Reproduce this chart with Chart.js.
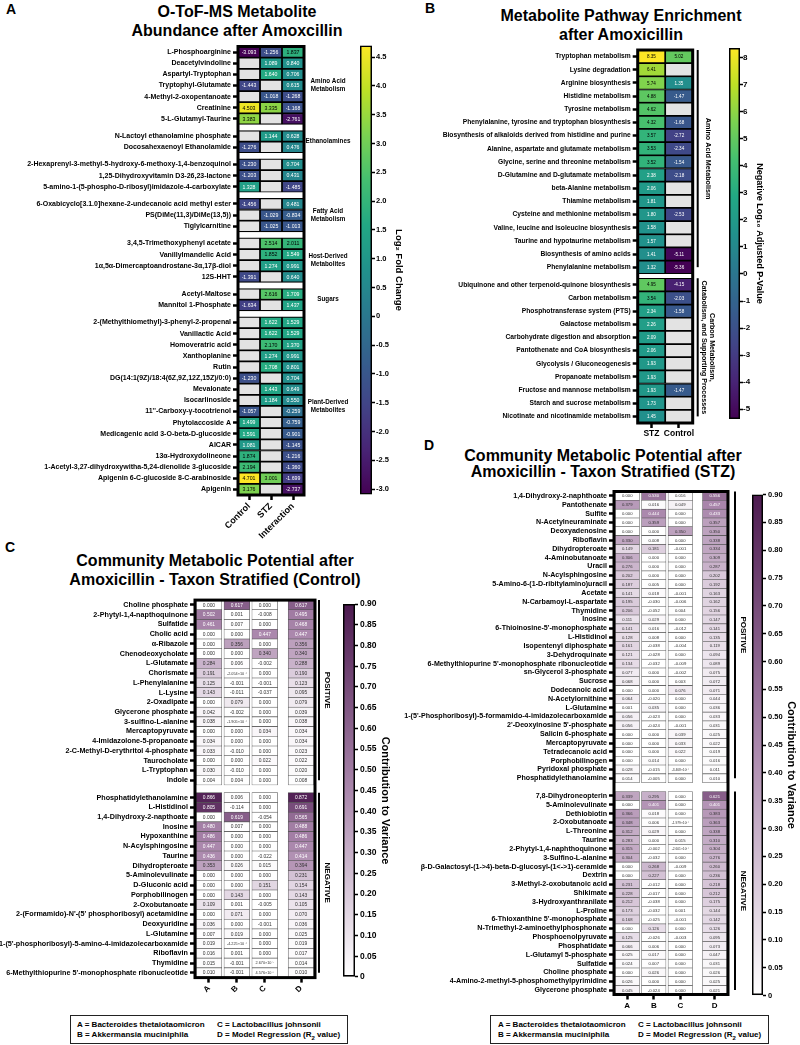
<!DOCTYPE html>
<html><head><meta charset="utf-8">
<script src="https://cdn.jsdelivr.net/npm/chart.js@4.4.1/dist/chart.umd.min.js"></script>
<style>
html,body{margin:0;padding:0;background:#fff;}
#page{position:relative;width:800px;height:1045px;overflow:hidden;font-family:'Liberation Sans',Arial,Helvetica,sans-serif;color:#000;}
canvas{position:absolute;}
.title{position:absolute;text-align:center;font-weight:bold;font-size:16px;white-space:nowrap;}
.letter{position:absolute;font-weight:bold;font-size:14px;line-height:14px;}
.legend{position:absolute;border:1.5px solid #222;box-sizing:border-box;font-size:8px;font-weight:bold;}
.legend span{position:absolute;white-space:nowrap;line-height:10px;}
</style></head>
<body><div id="page">
<div class="letter" style="left:6px;top:2px">A</div>
<div class="letter" style="left:425px;top:1px">B</div>
<div class="letter" style="left:5px;top:540px">C</div>
<div class="letter" style="left:424px;top:438px">D</div>
<div class="title" style="left:0px;width:474px;top:2.8px;line-height:18.7px">O-ToF-MS Metabolite<br>Abundance after Amoxcillin</div>
<div class="title" style="left:421px;width:400px;top:6.2px;line-height:19.3px">Metabolite Pathway Enrichment<br>after Amoxicillin</div>
<div class="title" style="left:15px;width:400px;top:551.2px;line-height:19.3px">Community Metabolic Potential after<br>Amoxicillin - Taxon Stratified (Control)</div>
<div class="title" style="left:403px;width:400px;top:447.7px;line-height:16.6px">Community Metabolic Potential after<br>Amoxicillin - Taxon Stratified (STZ)</div>

<canvas id="hmA" width="358" height="530" style="left:0px;top:40px"></canvas>
<canvas id="cbA" width="49" height="460" style="left:355px;top:40px"></canvas>
<canvas id="hmB" width="327" height="400" style="left:400px;top:44px"></canvas>
<canvas id="cbB" width="41" height="381" style="left:724px;top:43px"></canvas>
<canvas id="hmC" width="335" height="410" style="left:0px;top:590px"></canvas>
<canvas id="cbC" width="54" height="387" style="left:338px;top:597px"></canvas>
<canvas id="hmD" width="360" height="527" style="left:390px;top:485px"></canvas>
<canvas id="cbD" width="51" height="514" style="left:747px;top:488px"></canvas>

<div class="legend" style="left:70px;top:1015px;width:278px;height:29px">
  <span style="left:6px;top:3.5px">A = Bacteroides thetaiotaomicron</span>
  <span style="left:6px;top:14px">B = Akkermansia muciniphila</span>
  <span style="left:146px;top:3.5px">C = Lactobacillus johnsonii</span>
  <span style="left:146px;top:14px">D = Model Regression (R<sub style="font-size:6px;line-height:0">2</sub> value)</span>
</div>
<div class="legend" style="left:490px;top:1015px;width:279px;height:29px">
  <span style="left:7px;top:3.5px">A = Bacteroides thetaiotaomicron</span>
  <span style="left:7px;top:14px">B = Akkermansia muciniphila</span>
  <span style="left:147px;top:3.5px">C = Lactobacillus johnsonii</span>
  <span style="left:147px;top:14px">D = Model Regression (R<sub style="font-size:6px;line-height:0">2</sub> value)</span>
</div>
</div>
<script>
// ================= DATA =================
// ---- Panel A : O-ToF-MS metabolite abundance (log2 fold change) ----
const aMetabolites = [
 'L-Phosphoarginine','Deacetylvindoline','Aspartyl-Tryptophan','Tryptophyl-Glutamate','4-Methyl-2-oxopentanoate','Creatinine','5-L-Glutamyl-Taurine',
 'N-Lactoyl ethanolamine phosphate','Docosahexaenoyl Ethanolamide',
 '2-Hexaprenyl-3-methyl-5-hydroxy-6-methoxy-1,4-benzoquinol','1,25-Dihydroxyvitamin D3-26,23-lactone','5-amino-1-(5-phospho-D-ribosyl)imidazole-4-carboxylate',
 '6-Oxabicyclo[3.1.0]hexane-2-undecanoic acid methyl ester','PS(DiMe(11,3)/DiMe(13,5))','Tiglylcarnitine',
 '3,4,5-Trimethoxyphenyl acetate','Vanillylmandelic Acid','1α,5α-Dimercaptoandrostane-3α,17β-diol','12S-HHT',
 'Acetyl-Maltose','Mannitol 1-Phosphate',
 '2-(Methylthiomethyl)-3-phenyl-2-propenal','Vanillactic Acid','Homoveratric acid','Xanthoplanine','Rutin','DG(14:1(9Z)/18:4(6Z,9Z,12Z,15Z)/0:0)','Mevalonate','Isocarlinoside',"11''-Carboxy-γ-tocotrienol",'Phytolaccoside A','Medicagenic acid 3-O-beta-D-glucoside','AICAR','13α-Hydroxydolineone','1-Acetyl-3,27-dihydroxywitha-5,24-dienolide 3-glucoside','Apigenin 6-C-glucoside 8-C-arabinoside','Apigenin'
];
const aGroupSizes = [7, 2, 3, 3, 4, 2, 16];
const aGroupNames = [['Amino Acid','Metabolism'],['Ethanolamines'],[],['Fatty Acid','Metabolism'],['Host-Derived','Metabolites'],['Sugars'],['Plant-Derived','Metabolites']];
const aConditions = ['Control','STZ','Interaction'];
const aControl = [-3.093,null,null,-1.443,null,4.503,3.383, null,-1.276, -1.230,-1.203,1.328, -1.456,null,null, null,null,null,-1.391, null,-1.634,
  null,null,null,null,null,-1.230,null,null,-1.057,1.499,1.591,1.081,1.874,2.194,4.701,3.176];
const aSTZ = [-1.256,1.089,1.640,null,-1.018,3.335,null, 1.144,null, null,null,null, null,-1.029,-1.025, 2.514,1.852,1.274,null, 2.616,null,
  1.622,1.622,2.170,1.274,1.708,null,1.443,1.184,null,null,null,null,null,null,3.001,null];
const aInteraction = [1.837,0.840,0.706,0.615,-1.268,-1.168,-2.761, 0.628,0.476, 0.704,0.431,-1.485, 0.481,-0.834,-1.013, 2.011,1.549,0.991,0.640, 1.709,1.437,
  1.529,1.529,1.370,0.991,0.801,0.704,0.649,0.550,-0.259,-0.759,-0.901,-1.145,-1.216,-1.360,-1.699,-2.737];
const aColorTicks = [4.5,4.0,3.5,3.0,2.5,2.0,1.5,1.0,0.5,0,-0.5,-1.0,-1.5,-2.0,-2.5,-3.0];

// ---- Panel B : pathway enrichment (negative log10 adjusted p) ----
const bPathways = ['Tryptophan metabolism','Lysine degradation','Arginine biosynthesis','Histidine metabolism','Tyrosine metabolism','Phenylalanine, tyrosine and tryptophan biosynthesis','Biosynthesis of alkaloids derived from histidine and purine','Alanine, aspartate and glutamate metabolism','Glycine, serine and threonine metabolism','D-Glutamine and D-glutamate metabolism','beta-Alanine metabolism','Thiamine metabolism','Cysteine and methionine metabolism','Valine, leucine and isoleucine biosynthesis','Taurine and hypotaurine metabolism','Biosynthesis of amino acids','Phenylalanine metabolism',
 'Ubiquinone and other terpenoid-quinone biosynthesis','Carbon metabolism','Phosphotransferase system (PTS)','Galactose metabolism','Carbohydrate digestion and absorption','Pantothenate and CoA biosynthesis','Glycolysis / Gluconeogenesis','Propanoate metabolism','Fructose and mannose metabolism','Starch and sucrose metabolism','Nicotinate and nicotinamide metabolism'];
const bGroupSizes = [17, 11];
const bGroupNames = [['Amino Acid Metabolism'], ['Carbon Metabolism,', 'Catabolism, and Supporting Processes']];
const bConditions = ['STZ','Control'];
const bSTZ = [8.35,6.41,5.74,4.88,4.62,4.32,3.57,3.53,3.52,2.38,2.06,1.81,1.80,1.58,1.57,1.41,1.32, 4.95,3.54,2.34,2.26,2.09,2.06,1.93,1.93,1.93,1.73,1.45];
const bControl = [5.02,null,1.35,-1.47,null,-1.68,-2.72,-2.34,-1.54,-2.18,null,null,-2.53,null,null,-5.11,-5.36, -4.15,-2.03,-1.58,null,null,null,null,null,-1.47,null,null];
const bColorTicks = [8,7,6,5,4,3,2,1,0,-1,-2,-3,-4,-5];

// ---- Panel C : taxon stratified (Control) ----
const cMetabolites = ['Choline phosphate','2-Phytyl-1,4-napthoquinone','Sulfatide','Cholic acid','α-Ribazole','Chenodeoxycholate','L-Glutamate','Chorismate','L-Phenylalanine','L-Lysine','2-Oxadipate','Glycerone phosphate','3-sulfino-L-alanine','Mercaptopyruvate','4-Imidazolone-5-propanoate','2-C-Methyl-D-erythritol 4-phosphate','Taurocholate','L-Tryptophan','Indole',
 'Phosphatidylethanolamine','L-Histidinol','1,4-Dihydroxy-2-napthoate','Inosine','Hypoxanthine','N-Acylsphingosine','Taurine','Dihydropteroate','5-Aminolevulinate','D-Gluconic acid','Porphobilinogen','2-Oxobutanoate',"2-(Formamido)-N'-(5' phosphoribosyl) acetamidine",'Deoxyuridine','L-Glutamine',"1-(5'-phosphoribosyl)-5-amino-4-imidazolecarboxamide",'Riboflavin','Thymidine',"6-Methylthiopurine 5'-monophosphate ribonucleotide"];
const cGroupSizes = [19, 19];
const cGroupNames = [['POSITIVE'], ['NEGATIVE']];
const cTaxa = ['A','B','C','D'];
const cA = [0.000,0.502,0.461,0.000,0.000,0.000,0.284,0.191,0.125,0.143,0.000,0.042,0.038,0.000,0.034,0.033,0.000,0.030,0.004,
  0.866,0.805,0.000,0.480,0.486,0.447,0.436,0.353,0.000,0.000,0.000,0.109,0.000,0.036,0.007,0.019,0.016,0.015,0.010];
const cB = [0.617,0.001,0.007,0.000,0.356,0.000,0.006,-2.054e-4,-0.001,-0.011,0.079,-0.002,-1.905e-4,0.000,0.000,-0.010,0.000,-0.010,0.004,
  0.006,-0.114,0.619,0.007,0.000,0.000,0.000,0.026,0.000,0.000,0.143,0.001,0.071,0.000,0.019,-4.225e-4,0.001,-0.001,-0.001];
const cC = [0.000,-0.008,0.000,0.447,0.000,0.340,-0.002,0.000,-0.001,-0.037,0.000,0.000,0.000,0.034,0.000,0.000,0.022,0.000,0.000,
  0.000,0.000,-0.054,0.000,0.000,0.000,-0.022,0.015,0.000,0.151,0.000,-0.005,0.000,-0.001,0.000,0.000,0.000,2.670e-5,4.576e-6];
const cD = [0.617,0.495,0.468,0.447,0.356,0.340,0.288,0.190,0.123,0.095,0.079,0.039,0.038,0.034,0.034,0.023,0.022,0.020,0.008,
  0.872,0.691,0.565,0.488,0.486,0.447,0.414,0.394,0.231,0.154,0.143,0.105,0.070,0.036,0.025,0.019,0.017,0.014,0.010];
const contribTicks = [0.90,0.85,0.80,0.75,0.70,0.65,0.60,0.55,0.50,0.45,0.40,0.35,0.30,0.25,0.20,0.15,0.10,0.05,0];

// ---- Panel D : taxon stratified (STZ) ----
const dMetabolites = ['1,4-Dihydroxy-2-naphthoate','Pantothenate','Sulfite','N-Acetylneuraminate','Deoxyadenosine','Riboflavin','Dihydropteroate','4-Aminobutanoate','Uracil','N-Acylsphingosine','5-Amino-6-(1-D-ribitylamino)uracil','Acetate','N-Carbamoyl-L-aspartate','Thymidine','Inosine',"6-Thioinosine-5'-monophosphate",'L-Histidinol','Isopentenyl diphosphate','3-Dehydroquinate',"6-Methylthiopurine 5'-monophosphate ribonucleotide",'sn-Glycerol 3-phosphate','Sucrose','Dodecanoic acid','N-Acetylornithine','L-Glutamine',"1-(5'-Phosphoribosyl)-5-formamido-4-imidazolecarboxamide","2'-Deoxyinosine 5'-phosphate",'Salicin 6-phosphate','Mercaptopyruvate','Tetradecanoic acid','Porphobilinogen','Pyridoxal phosphate','Phosphatidylethanolamine',
 '7,8-Dihydroneopterin','5-Aminolevulinate','Dethiobiotin','2-Oxobutanoate','L-Threonine','Taurine','2-Phytyl-1,4-naphthoquinone','3-Sulfino-L-alanine','β-D-Galactosyl-(1->4)-beta-D-glucosyl-(1<->1)-ceramide','Dextrin','3-Methyl-2-oxobutanoic acid','Shikimate','3-Hydroxyanthranilate','L-Proline',"6-Thioxanthine 5'-monophosphate",'N-Trimethyl-2-aminoethylphosphonate','Phosphoenolpyruvate','Phosphatidate','L-Glutamyl 5-phosphate','Sulfatide','Choline phosphate','4-Amino-2-methyl-5-phosphomethylpyrimidine','Glycerone phosphate'];
const dGroupSizes = [33, 23];
const dGroupNames = [['POSITIVE'], ['NEGATIVE']];
const dTaxa = ['A','B','C','D'];
const dA = [0.000,0.379,0.000,0.000,0.000,0.330,0.149,0.306,0.276,0.202,0.187,0.141,0.195,0.206,0.111,0.141,0.128,0.161,0.121,0.134,0.077,0.068,0.000,0.064,0.001,0.056,0.056,0.000,0.000,0.000,0.000,0.028,0.014,
  0.339,0.000,0.366,0.348,0.312,0.283,0.315,0.304,0.000,0.000,0.231,0.228,0.212,0.173,0.168,0.000,0.125,0.066,0.025,0.024,0.000,0.026,0.045];
const dB = [0.530,0.016,0.444,0.359,0.000,0.008,0.181,0.000,0.000,0.000,0.005,0.018,-0.030,-0.052,0.029,0.016,0.008,-0.038,-0.028,-0.032,0.000,0.000,0.000,-0.020,0.035,-0.023,-0.024,0.000,0.000,0.000,0.014,-0.015,-0.005,
  0.295,0.401,0.018,0.006,0.029,0.000,-0.002,-0.032,0.268,0.227,-0.012,-0.017,-0.038,-0.032,-0.025,0.126,-0.026,0.006,0.017,0.007,0.026,0.000,-0.024];
const dC = [0.016,0.049,0.000,0.000,0.350,0.000,-0.001,0.000,0.000,0.000,0.000,-0.001,-0.006,0.004,0.000,-0.012,0.000,-0.004,0.000,-0.009,-0.002,0.003,0.076,0.000,0.000,0.000,-0.001,0.039,0.033,0.022,0.000,-3.468e-4,0.000,
  0.000,0.000,0.000,-1.979e-4,0.000,0.015,-2.601e-4,0.000,-0.009,0.000,0.000,0.000,0.000,0.001,-0.001,0.000,-0.003,0.000,0.000,0.000,0.000,0.000,0.000];
const dD = [0.556,0.457,0.433,0.357,0.350,0.338,0.334,0.309,0.287,0.202,0.192,0.163,0.162,0.156,0.147,0.141,0.135,0.119,0.094,0.089,0.075,0.072,0.071,0.044,0.036,0.033,0.031,0.025,0.022,0.019,0.016,0.011,0.010,
  0.621,0.401,0.383,0.363,0.338,0.310,0.304,0.276,0.260,0.236,0.218,0.212,0.175,0.144,0.142,0.126,0.095,0.073,0.047,0.031,0.026,0.025,0.021];

// ================= HELPERS =================
const FONT = "'Liberation Sans', Arial, Helvetica, sans-serif";
Chart.defaults.font.family = FONT;
Chart.defaults.color = '#000';

const NARROW = (() => {
  const c = document.createElement('canvas').getContext('2d');
  c.font = "bold 20px 'Liberation Sans Narrow', monospace"; const w1 = c.measureText('Biosynthesis of alkaloids').width;
  c.font = "bold 20px monospace"; const w2 = c.measureText('Biosynthesis of alkaloids').width;
  return Math.abs(w1 - w2) > 0.5;
})();

const VIRIDIS = [[68,1,84],[72,36,117],[65,68,135],[53,95,141],[42,120,142],[33,145,140],[34,168,132],[68,191,112],[122,209,81],[189,223,38],[253,231,37]];
const PURPLES = [[255,255,255],[170,135,172],[77,27,80]];
function ramp(stops, t) {
  t = Math.max(0, Math.min(1, t));
  const s = t * (stops.length - 1);
  const i = Math.min(Math.floor(s), stops.length - 2);
  const f = s - i, a = stops[i], b = stops[i + 1];
  return 'rgb(' + [0,1,2].map(k => Math.round(a[k] + (b[k] - a[k]) * f)).join(',') + ')';
}
function sup(n) {
  const m = {'-':'⁻','0':'⁰','1':'¹','2':'²','3':'³','4':'⁴','5':'⁵','6':'⁶','7':'⁷','8':'⁸','9':'⁹'};
  return String(n).split('').map(ch => m[ch]).join('');
}
function fmtContribution(v) {
  if (v === 0) return '0.000';
  const a = Math.abs(v);
  if (a < 0.0005) { const e = Math.floor(Math.log10(a)); return (v / Math.pow(10, e)).toFixed(3) + '×10' + sup(e); }
  return v.toFixed(3);
}
function rowPositions(groupSizes, gap) {
  const pos = []; let k = 0;
  groupSizes.forEach((n, g) => { for (let j = 0; j < n; j++) { pos.push(k + g * gap); k++; } });
  return pos;
}

function heatmap(cfg) {
  const pos = rowPositions(cfg.groupSizes, cfg.gap);
  const colCenters = cfg.colStart.map(s => s + 0.5);
  const xMax = cfg.colStart[cfg.colStart.length - 1] + 1;
  const datasets = cfg.values.map((vals, ci) => ({
    data: pos.map(p => ({ y: p, x: [cfg.colStart[ci] + cfg.inset, cfg.colStart[ci] + 1 - cfg.inset] })),
    values: vals,
    backgroundColor: vals.map(v => v === null ? '#e3e3e3' : cfg.color(v)),
    borderColor: cfg.cellBorder, borderWidth: cfg.cellBorderWidth, borderSkipped: false,
    barPercentage: 1, categoryPercentage: 1, grouped: false
  }));
  const deco = {
    id: 'heatDeco',
    afterDatasetsDraw(chart) {
      const c = chart.ctx, a = chart.chartArea;
      c.save();
      c.textAlign = 'center'; c.textBaseline = 'middle';
      chart.data.datasets.forEach((ds, di) => {
        chart.getDatasetMeta(di).data.forEach((el, i) => {
          const v = ds.values[i]; if (v === null) return;
          const s = cfg.format(v);
          c.font = (s.length > 6 ? cfg.cellFont * 0.78 : cfg.cellFont) + 'px ' + FONT;
          c.fillStyle = cfg.textColor(v);
          c.fillText(s, (el.x + el.base) / 2, el.y + 0.4);
        });
      });
      c.lineWidth = cfg.frameWidth; c.strokeStyle = '#000';
      c.strokeRect(a.left, a.top, a.right - a.left, a.bottom - a.top);
      c.restore();
      c.save();
      cfg.decorate(chart, pos);
      c.restore();
    }
  };
  return new Chart(document.getElementById(cfg.id), {
    type: 'bar',
    data: { datasets },
    options: {
      indexAxis: 'y', responsive: false, animation: false, events: [], devicePixelRatio: 1,
      layout: { padding: cfg.padding },
      plugins: { legend: { display: false }, tooltip: { enabled: false } },
      scales: {
        y: {
          type: 'linear', reverse: true, offset: false,
          min: pos[0] - 0.5, max: pos[pos.length - 1] + 0.5,
          afterBuildTicks: s => { s.ticks = pos.map(v => ({ value: v })); },
          afterFit: s => { s.width = cfg.yW; },
          ticks: { autoSkip: false, padding: 2, color: '#000', font: cfg.labelFont, callback: (v, i) => cfg.labels[i] },
          grid: { offset: false, drawOnChartArea: false, drawTicks: true, tickLength: 5, tickWidth: 2.5, tickColor: '#000' },
          border: { display: false }
        },
        x: {
          type: 'linear', min: 0, max: xMax, offset: false,
          afterBuildTicks: s => { s.ticks = colCenters.map(v => ({ value: v })); },
          afterFit: s => { s.height = cfg.xH; },
          ticks: { autoSkip: false, padding: 1, color: '#000', font: cfg.xFont, minRotation: cfg.rot, maxRotation: cfg.rot, callback: (v, i) => cfg.colNames[i] },
          grid: { offset: false, drawOnChartArea: false, drawTicks: true, tickLength: 5, tickWidth: 2.5, tickColor: '#000' },
          border: { display: false }
        }
      }
    },
    plugins: [deco]
  });
}

function colorbar(cfg) {
  const titlePlugin = {
    id: 'cbTitle',
    afterDraw(chart) {
      const c = chart.ctx, a = chart.chartArea, s = chart.scales.y;
      const lh = cfg.titleSize * 1.2;
      c.save();
      c.translate(s.right - lh / 2, (a.top + a.bottom) / 2 + (cfg.titleShift || 0));
      c.rotate(Math.PI / 2);
      c.font = 'bold ' + cfg.titleSize + 'px ' + FONT; c.fillStyle = '#000';
      c.textAlign = 'center'; c.textBaseline = 'middle';
      c.fillText(cfg.title, 0, 0);
      c.restore();
    }
  };
  return new Chart(document.getElementById(cfg.id), {
    type: 'bar',
    data: { labels: [''], datasets: [{
      data: [[cfg.min, cfg.max]],
      backgroundColor: (ctx) => {
        const ch = ctx.chart, a = ch.chartArea;
        if (!a) return cfg.ramp(0.5);
        const g = ch.ctx.createLinearGradient(0, a.bottom, 0, a.top);
        for (let i = 0; i <= 40; i++) g.addColorStop(i / 40, cfg.ramp(i / 40));
        return g;
      },
      borderColor: '#000', borderWidth: 1.8, borderSkipped: false, barPercentage: 1, categoryPercentage: 1
    }] },
    options: {
      responsive: false, animation: false, events: [], devicePixelRatio: 1,
      layout: { padding: { left: 5, top: 5, bottom: 5, right: 0 } },
      plugins: { legend: { display: false }, tooltip: { enabled: false } },
      scales: {
        x: { display: false },
        y: {
          position: 'right', min: cfg.min, max: cfg.max,
          afterBuildTicks: s => { s.ticks = cfg.ticks.filter(v => v >= cfg.min - 1e-9 && v <= cfg.max + 1e-9).map(v => ({ value: v })); },
          afterFit: s => { s.width = cfg.axisW; },
          ticks: { autoSkip: false, padding: cfg.tickPad, color: '#000', font: { size: cfg.tickSize, weight: 'bold' }, callback: cfg.fmt },
          grid: { drawOnChartArea: false, drawTicks: true, tickLength: 3, tickWidth: 1.5, tickColor: '#000' },
          border: { display: false }
        }
      }
    },
    plugins: [titlePlugin]
  });
}

function bracketGroups(chart, pos, sizes, names, dxLine, dxText, fontSize, lineGap) {
  const c = chart.ctx, a = chart.chartArea, y = chart.scales.y;
  let k = 0;
  sizes.forEach((n, g) => {
    const yTop = y.getPixelForValue(pos[k] - 0.5), yEnd = y.getPixelForValue(pos[k + n - 1]);
    c.strokeStyle = '#000'; c.lineWidth = 2;
    c.beginPath(); c.moveTo(a.right + dxLine, yTop); c.lineTo(a.right + dxLine, yEnd); c.stroke();
    const yc = (yTop + yEnd) / 2, lines = names[g];
    c.save();
    c.translate(a.right + dxText, yc); c.rotate(Math.PI / 2);
    c.font = 'bold ' + fontSize + 'px ' + FONT; c.fillStyle = '#000'; c.textAlign = 'center'; c.textBaseline = 'middle';
    lines.forEach((t, li) => c.fillText(t, 0, (li - (lines.length - 1) / 2) * lineGap));
    c.restore();
    k += n;
  });
}

// ================= PANEL A =================
const aAll = aControl.concat(aSTZ, aInteraction).filter(v => v !== null);
const aMin = Math.min(...aAll), aMax = Math.max(...aAll);
const aT = v => (v - aMin) / (aMax - aMin);
heatmap({
  id: 'hmA', labels: aMetabolites, groupSizes: aGroupSizes, gap: 0.55,
  colStart: [0, 1, 2], colNames: aConditions, values: [aControl, aSTZ, aInteraction], inset: 0,
  color: v => ramp(VIRIDIS, aT(v)), textColor: v => aT(v) < 0.62 ? '#fff' : '#000', format: v => v.toFixed(3),
  cellFont: 5.2, cellBorder: '#000', cellBorderWidth: 1.2, frameWidth: 3,
  labelFont: { size: 7, weight: 'bold' }, xFont: { size: 9, weight: 'bold' }, rot: 45,
  yW: 238, xH: 75, padding: { top: 6.5, right: 54, left: 0, bottom: 0 },
  decorate: (chart, pos) => {
    const c = chart.ctx, a = chart.chartArea, y = chart.scales.y;
    c.font = 'bold 6.3px ' + FONT; c.fillStyle = '#000'; c.textAlign = 'center'; c.textBaseline = 'middle';
    let k = 0;
    aGroupSizes.forEach((n, g) => {
      const yc = (y.getPixelForValue(pos[k]) + y.getPixelForValue(pos[k + n - 1])) / 2;
      const lines = aGroupNames[g];
      lines.forEach((t, li) => c.fillText(t, a.right + 24, yc + (li - (lines.length - 1) / 2) * 8));
      k += n;
    });
  }
});
colorbar({ id: 'cbA', min: aMin, max: aMax, ramp: t => ramp(VIRIDIS, t), ticks: aColorTicks,
  fmt: v => v === 0 ? '0' : v.toFixed(1), title: 'Log₂ Fold Change', axisW: 32, tickPad: 1, tickSize: 7.5, titleSize: 9.5 });

// ================= PANEL B =================
const bAll = bSTZ.concat(bControl).filter(v => v !== null);
const bMin = Math.min(...bAll), bMax = Math.max(...bAll);
const bT = v => (v - bMin) / (bMax - bMin);
heatmap({
  id: 'hmB', labels: bPathways, groupSizes: bGroupSizes, gap: 0.34,
  colStart: [0, 1], colNames: bConditions, values: [bSTZ, bControl], inset: 0,
  color: v => ramp(VIRIDIS, bT(v)), textColor: v => bT(v) < 0.62 ? '#fff' : '#000', format: v => v.toFixed(2),
  cellFont: 4.6, cellBorder: '#000', cellBorderWidth: 1.2, frameWidth: 3,
  labelFont: NARROW ? { family: "'Liberation Sans Narrow', " + FONT, size: 8.1, weight: 'bold' } : { size: 6.7, weight: 'bold' },
  xFont: { size: 8.5, weight: 'bold' }, rot: 0,
  yW: 237.7, xH: 21, padding: { top: 6, right: 34.3, left: 0, bottom: 0 },
  decorate: (chart, pos) => bracketGroups(chart, pos, bGroupSizes, bGroupNames, 5, 15, 7.2, 8.4)
});
colorbar({ id: 'cbB', min: bMin, max: bMax, ramp: t => ramp(VIRIDIS, t), ticks: bColorTicks,
  fmt: v => String(v), title: 'Negative Log₁₀ Adjusted P-Value', axisW: 25, tickPad: 0, tickSize: 8, titleSize: 9 });

// ================= PANEL C =================
const pT = v => Math.max(0, v) / 0.9;
heatmap({
  id: 'hmC', labels: cMetabolites, groupSizes: cGroupSizes, gap: 0.79,
  colStart: [0, 1, 2, 3.3], colNames: cTaxa, values: [cA, cB, cC, cD], inset: 0.04,
  color: v => ramp(PURPLES, pT(v)), textColor: v => v > 0.4 ? '#fff' : '#333', format: fmtContribution,
  cellFont: 4.9, cellBorder: '#555', cellBorderWidth: 0.6, frameWidth: 3,
  labelFont: { size: 7.2, weight: 'bold' }, xFont: { size: 8, weight: 'bold' }, rot: 45,
  yW: 195, xH: 22.4, padding: { top: 10.1, right: 20, left: 0, bottom: 0 },
  decorate: (chart, pos) => bracketGroups(chart, pos, cGroupSizes, cGroupNames, 4, 12, 8, 9)
});
colorbar({ id: 'cbC', min: 0, max: Math.max(...contribTicks), ramp: t => ramp(PURPLES, t), ticks: contribTicks,
  fmt: v => v === 0 ? '0' : v.toFixed(2), title: 'Contribution to Variance', axisW: 37, tickPad: 2, tickSize: 8.5, titleSize: 11, titleShift: 10 });

// ================= PANEL D =================
heatmap({
  id: 'hmD', labels: dMetabolites, groupSizes: dGroupSizes, gap: 1.0,
  colStart: [0, 1, 2, 3.3], colNames: dTaxa, values: [dA, dB, dC, dD], inset: 0.04,
  color: v => ramp(PURPLES, pT(v)), textColor: v => v > 0.4 ? '#fff' : '#333', format: fmtContribution,
  cellFont: 4.2, cellBorder: '#555', cellBorderWidth: 0.6, frameWidth: 3,
  labelFont: { size: 7.1, weight: 'bold' }, xFont: { size: 8, weight: 'bold' }, rot: 0,
  yW: 224, xH: 17.5, padding: { top: 6.5, right: 22, left: 0, bottom: 0 },
  decorate: (chart, pos) => bracketGroups(chart, pos, dGroupSizes, dGroupNames, 7, 15, 8, 9)
});
colorbar({ id: 'cbD', min: 0, max: Math.max(...contribTicks), ramp: t => ramp(PURPLES, t), ticks: contribTicks,
  fmt: v => v === 0 ? '0' : v.toFixed(2), title: 'Contribution to Variance', axisW: 35, tickPad: 2, tickSize: 7.5, titleSize: 11, titleShift: 20 });
</script>
</body></html>
